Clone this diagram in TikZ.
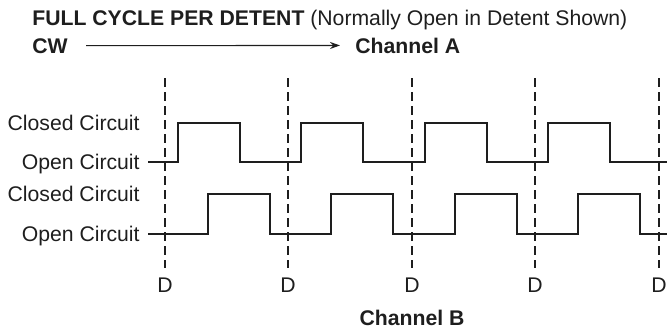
\documentclass[tikz,border=0pt]{standalone}
\usepackage{fontspec}
\setmainfont{Liberation Sans}
\usepackage{xcolor}
\usepackage{tikz}
\usetikzlibrary{arrows.meta, positioning, calc}
\definecolor{inkgray}{RGB}{30,30,30}

\tikzset{
    lbl/.style={
        font=\fontsize{10.6}{12}\selectfont,
        text=inkgray,
        inner sep=0pt
    },
    boldlbl/.style={
        lbl,
        font=\fontsize{10.6}{12}\selectfont\bfseries
    },
    wave/.style={
        inkgray,
        line width=1pt,
        line join=miter
    },
    detentline/.style={
        inkgray,
        line width=0.7pt,
        dash pattern=on 4.5pt off 2.5pt
    }
}

\begin{document}
\begin{tikzpicture}[x=0.5pt, y=-0.5pt]

        % Frame of the picture
        \useasboundingbox (0,0) rectangle (667,329);

        % Heading and direction
        \node[lbl, anchor=base west] (title) at (32,25)
        {\textbf{FULL CYCLE PER DETENT} (Normally Open in Detent Shown)};

        \node[boldlbl, anchor=base west] (cw) at (32,53) {CW};
        \node[boldlbl, anchor=base west] (chA) at (355,53) {Channel A};

        \draw[
            inkgray,
            line width=0.55pt,
            -{Stealth[length=5pt, width=3.5pt]},
            shorten <=9pt,
            shorten >=7.5pt
        ]
        (cw.east) -- (chA.west);

        % Level labels
        \node[lbl, anchor=base east] (ccA) at (140,130) {Closed Circuit};
        \node[lbl, anchor=base east] (ocA) at (140,169) {Open Circuit};
        \node[lbl, anchor=base east] (ccB) at (140,201) {Closed Circuit};
        \node[lbl, anchor=base east] (ocB) at (140,241) {Open Circuit};

        % Detent lines
        \foreach \x [count=\i] in {165,288,412,535,659} {
            \draw[detentline] (\x,78) -- (\x,268);
            \node[lbl, anchor=base] (d\i) at (\x,292) {D};
        }

        \node[boldlbl, anchor=base] (chB) at (d3 |- 0,325) {Channel B};

        % Channel A
        \draw[wave]
        (148,162)
        \foreach \x in {165,288,412,535} {
            -- (\x+13,162) -- (\x+13,123) -- (\x+75,123) -- (\x+75,162)
        }
        -- (667,162);

        % Channel B
        \draw[wave]
        (148,234)
        \foreach \x in {165,288,412,535} {
            -- (\x+43,234) -- (\x+43,194) -- (\x+105,194) -- (\x+105,234)
        }
        -- (667,234);

    \end{tikzpicture}
\end{document}
